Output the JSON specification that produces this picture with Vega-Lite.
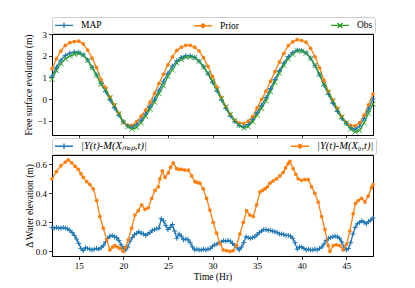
{
"$schema": "https://vega.github.io/schema/vega-lite/v6.json",
"background": "white",
"padding": {"left": 23, "top": 16, "right": 5, "bottom": 5},
"bounds": "flush",
"spacing": 20,
"resolve": {"scale": {"color": "independent", "shape": "independent", "x": "independent", "y": "independent"}, "legend": {"color": "independent", "shape": "independent"}},
"datasets": {
"top": [
{"t":12.0,"MAP":1.06,"Prior":1.40,"Obs":0.90},
{"t":12.5,"MAP":1.47,"Prior":1.86,"Obs":1.31},
{"t":13.0,"MAP":1.79,"Prior":2.22,"Obs":1.63},
{"t":13.5,"MAP":2.01,"Prior":2.47,"Obs":1.85},
{"t":14.0,"MAP":2.12,"Prior":2.60,"Obs":1.98},
{"t":14.5,"MAP":2.17,"Prior":2.65,"Obs":2.06},
{"t":15.0,"MAP":2.16,"Prior":2.67,"Obs":2.11},
{"t":15.5,"MAP":2.04,"Prior":2.54,"Obs":2.03},
{"t":16.0,"MAP":1.80,"Prior":2.26,"Obs":1.78},
{"t":16.5,"MAP":1.46,"Prior":1.89,"Obs":1.45},
{"t":17.0,"MAP":1.11,"Prior":1.45,"Obs":1.10},
{"t":17.5,"MAP":0.71,"Prior":0.90,"Obs":0.69},
{"t":18.0,"MAP":0.35,"Prior":0.53,"Obs":0.42},
{"t":18.5,"MAP":-0.04,"Prior":0.08,"Obs":0.07},
{"t":19.0,"MAP":-0.41,"Prior":-0.27,"Obs":-0.31},
{"t":19.5,"MAP":-0.75,"Prior":-0.66,"Obs":-0.68},
{"t":20.0,"MAP":-1.05,"Prior":-1.07,"Obs":-1.07},
{"t":20.5,"MAP":-1.24,"Prior":-1.21,"Obs":-1.28},
{"t":21.0,"MAP":-1.29,"Prior":-1.21,"Obs":-1.39},
{"t":21.5,"MAP":-1.18,"Prior":-1.04,"Obs":-1.31},
{"t":22.0,"MAP":-0.97,"Prior":-0.79,"Obs":-1.10},
{"t":22.5,"MAP":-0.69,"Prior":-0.51,"Obs":-0.80},
{"t":23.0,"MAP":-0.34,"Prior":-0.14,"Obs":-0.47},
{"t":23.5,"MAP":0.00,"Prior":0.26,"Obs":-0.15},
{"t":24.0,"MAP":0.41,"Prior":0.72,"Obs":0.25},
{"t":24.5,"MAP":0.82,"Prior":1.14,"Obs":0.61},
{"t":25.0,"MAP":1.19,"Prior":1.58,"Obs":1.04},
{"t":25.5,"MAP":1.52,"Prior":1.94,"Obs":1.34},
{"t":26.0,"MAP":1.76,"Prior":2.24,"Obs":1.67},
{"t":26.5,"MAP":1.92,"Prior":2.39,"Obs":1.82},
{"t":27.0,"MAP":2.00,"Prior":2.48,"Obs":1.92},
{"t":27.5,"MAP":2.00,"Prior":2.48,"Obs":1.94},
{"t":28.0,"MAP":1.92,"Prior":2.39,"Obs":1.91},
{"t":28.5,"MAP":1.75,"Prior":2.21,"Obs":1.74},
{"t":29.0,"MAP":1.49,"Prior":1.90,"Obs":1.48},
{"t":29.5,"MAP":1.17,"Prior":1.51,"Obs":1.18},
{"t":30.0,"MAP":0.78,"Prior":1.04,"Obs":0.82},
{"t":30.5,"MAP":0.38,"Prior":0.55,"Obs":0.43},
{"t":31.0,"MAP":-0.04,"Prior":0.06,"Obs":0.03},
{"t":31.5,"MAP":-0.43,"Prior":-0.36,"Obs":-0.36},
{"t":32.0,"MAP":-0.78,"Prior":-0.71,"Obs":-0.71},
{"t":32.5,"MAP":-1.04,"Prior":-0.98,"Obs":-1.00},
{"t":33.0,"MAP":-1.22,"Prior":-1.11,"Obs":-1.21},
{"t":33.5,"MAP":-1.28,"Prior":-1.13,"Obs":-1.34},
{"t":34.0,"MAP":-1.18,"Prior":-1.02,"Obs":-1.28},
{"t":34.5,"MAP":-0.95,"Prior":-0.81,"Obs":-1.05},
{"t":35.0,"MAP":-0.63,"Prior":-0.41,"Obs":-0.74},
{"t":35.5,"MAP":-0.29,"Prior":-0.02,"Obs":-0.43},
{"t":36.0,"MAP":0.07,"Prior":0.36,"Obs":-0.08},
{"t":36.5,"MAP":0.48,"Prior":0.81,"Obs":0.34},
{"t":37.0,"MAP":0.90,"Prior":1.26,"Obs":0.77},
{"t":37.5,"MAP":1.31,"Prior":1.71,"Obs":1.19},
{"t":38.0,"MAP":1.66,"Prior":2.10,"Obs":1.55},
{"t":38.5,"MAP":1.96,"Prior":2.46,"Obs":1.85},
{"t":39.0,"MAP":2.15,"Prior":2.64,"Obs":2.06},
{"t":39.5,"MAP":2.25,"Prior":2.74,"Obs":2.23},
{"t":40.0,"MAP":2.24,"Prior":2.70,"Obs":2.21},
{"t":40.5,"MAP":2.13,"Prior":2.62,"Obs":2.12},
{"t":41.0,"MAP":1.89,"Prior":2.34,"Obs":1.88},
{"t":41.5,"MAP":1.54,"Prior":1.95,"Obs":1.55},
{"t":42.0,"MAP":1.12,"Prior":1.44,"Obs":1.14},
{"t":42.5,"MAP":0.64,"Prior":0.87,"Obs":0.69},
{"t":43.0,"MAP":0.22,"Prior":0.35,"Obs":0.31},
{"t":43.5,"MAP":-0.19,"Prior":-0.05,"Obs":-0.09},
{"t":44.0,"MAP":-0.57,"Prior":-0.43,"Obs":-0.47},
{"t":44.5,"MAP":-0.90,"Prior":-0.81,"Obs":-0.83},
{"t":45.0,"MAP":-1.13,"Prior":-1.08,"Obs":-1.12},
{"t":45.5,"MAP":-1.33,"Prior":-1.22,"Obs":-1.39},
{"t":46.0,"MAP":-1.40,"Prior":-1.24,"Obs":-1.52},
{"t":46.5,"MAP":-1.25,"Prior":-1.09,"Obs":-1.45},
{"t":47.0,"MAP":-0.90,"Prior":-0.76,"Obs":-1.10},
{"t":47.5,"MAP":-0.46,"Prior":-0.27,"Obs":-0.66},
{"t":48.0,"MAP":0.00,"Prior":0.23,"Obs":-0.23}
],
"ea": [
{"t":12.0,"v":0.165},{"t":12.25,"v":0.16},{"t":12.5,"v":0.165},{"t":12.75,"v":0.16},{"t":13.0,"v":0.16},{"t":13.25,"v":0.165},{"t":13.5,"v":0.16},{"t":13.75,"v":0.155},
{"t":14.0,"v":0.145},{"t":14.25,"v":0.13},{"t":14.5,"v":0.11},{"t":14.75,"v":0.085},{"t":15.0,"v":0.055},{"t":15.25,"v":0.02},{"t":15.5,"v":0.005},{"t":15.75,"v":0.025},
{"t":16.0,"v":0.02},{"t":16.25,"v":0.015},{"t":16.5,"v":0.01},{"t":16.75,"v":0.015},{"t":17.0,"v":0.02},{"t":17.25,"v":0.015},{"t":17.5,"v":0.025},{"t":17.75,"v":0.04},
{"t":18.0,"v":0.065},{"t":18.25,"v":0.09},{"t":18.5,"v":0.105},{"t":18.75,"v":0.11},{"t":19.0,"v":0.1},{"t":19.25,"v":0.095},{"t":19.5,"v":0.075},{"t":19.75,"v":0.045},
{"t":20.0,"v":0.02},{"t":20.25,"v":0.01},{"t":20.5,"v":0.03},{"t":20.75,"v":0.07},{"t":21.0,"v":0.095},{"t":21.25,"v":0.115},{"t":21.5,"v":0.125},{"t":21.75,"v":0.135},
{"t":22.0,"v":0.125},{"t":22.25,"v":0.12},{"t":22.5,"v":0.11},{"t":22.75,"v":0.12},{"t":23.0,"v":0.13},{"t":23.25,"v":0.145},{"t":23.5,"v":0.15},{"t":23.75,"v":0.155},
{"t":24.0,"v":0.16},{"t":24.25,"v":0.225},{"t":24.5,"v":0.21},{"t":24.75,"v":0.18},{"t":25.0,"v":0.15},{"t":25.25,"v":0.165},{"t":25.5,"v":0.185},{"t":25.75,"v":0.14},
{"t":26.0,"v":0.09},{"t":26.25,"v":0.12},{"t":26.5,"v":0.105},{"t":26.75,"v":0.08},{"t":27.0,"v":0.085},{"t":27.25,"v":0.08},{"t":27.5,"v":0.06},{"t":27.75,"v":0.03},
{"t":28.0,"v":0.01},{"t":28.25,"v":0.015},{"t":28.5,"v":0.01},{"t":28.75,"v":0.01},{"t":29.0,"v":0.015},{"t":29.25,"v":0.01},{"t":29.5,"v":0.015},{"t":29.75,"v":0.02},
{"t":30.0,"v":0.035},{"t":30.25,"v":0.045},{"t":30.5,"v":0.05},{"t":30.75,"v":0.06},{"t":31.0,"v":0.065},{"t":31.25,"v":0.075},{"t":31.5,"v":0.07},{"t":31.75,"v":0.075},
{"t":32.0,"v":0.07},{"t":32.25,"v":0.055},{"t":32.5,"v":0.04},{"t":32.75,"v":0.025},{"t":33.0,"v":0.01},{"t":33.25,"v":0.03},{"t":33.5,"v":0.06},{"t":33.75,"v":0.1},
{"t":34.0,"v":0.095},{"t":34.25,"v":0.09},{"t":34.5,"v":0.095},{"t":34.75,"v":0.1},{"t":35.0,"v":0.115},{"t":35.25,"v":0.13},{"t":35.5,"v":0.14},{"t":35.75,"v":0.15},
{"t":36.0,"v":0.15},{"t":36.25,"v":0.145},{"t":36.5,"v":0.145},{"t":36.75,"v":0.14},{"t":37.0,"v":0.135},{"t":37.25,"v":0.13},{"t":37.5,"v":0.12},{"t":37.75,"v":0.12},
{"t":38.0,"v":0.115},{"t":38.25,"v":0.11},{"t":38.5,"v":0.11},{"t":38.75,"v":0.105},{"t":39.0,"v":0.09},{"t":39.25,"v":0.06},{"t":39.5,"v":0.015},{"t":39.75,"v":0.03},
{"t":40.0,"v":0.03},{"t":40.25,"v":0.02},{"t":40.5,"v":0.01},{"t":40.75,"v":0.015},{"t":41.0,"v":0.01},{"t":41.25,"v":0.01},{"t":41.5,"v":0.015},{"t":41.75,"v":0.01},
{"t":42.0,"v":0.02},{"t":42.25,"v":0.03},{"t":42.5,"v":0.05},{"t":42.75,"v":0.075},{"t":43.0,"v":0.09},{"t":43.25,"v":0.095},{"t":43.5,"v":0.1},{"t":43.75,"v":0.105},
{"t":44.0,"v":0.1},{"t":44.25,"v":0.09},{"t":44.5,"v":0.065},{"t":44.75,"v":0.03},{"t":45.0,"v":0.01},{"t":45.25,"v":0.02},{"t":45.5,"v":0.06},{"t":45.75,"v":0.12},
{"t":46.0,"v":0.165},{"t":46.25,"v":0.19},{"t":46.5,"v":0.2},{"t":46.75,"v":0.21},{"t":47.0,"v":0.2},{"t":47.25,"v":0.19},{"t":47.5,"v":0.205},{"t":47.75,"v":0.215},
{"t":48.0,"v":0.23}
],
"eb": [
{"t":12.0,"v":0.5},{"t":12.5,"v":0.55},{"t":13.0,"v":0.59},{"t":13.5,"v":0.615},{"t":13.83,"v":0.63},{"t":14.2,"v":0.61},{"t":14.6,"v":0.585},{"t":14.95,"v":0.565},
{"t":15.25,"v":0.535},{"t":15.51,"v":0.51},{"t":15.9,"v":0.48},{"t":16.26,"v":0.46},{"t":16.63,"v":0.43},{"t":17.01,"v":0.35},{"t":17.38,"v":0.24},{"t":17.75,"v":0.16},
{"t":18.13,"v":0.08},{"t":18.5,"v":0.01},{"t":18.8,"v":0.03},{"t":19.06,"v":0.04},{"t":19.35,"v":0.03},{"t":19.62,"v":0.02},{"t":19.99,"v":0.0},{"t":20.25,"v":0.03},
{"t":20.55,"v":0.08},{"t":20.93,"v":0.16},{"t":21.3,"v":0.25},{"t":21.67,"v":0.28},{"t":22.06,"v":0.32},{"t":22.43,"v":0.29},{"t":22.8,"v":0.3},{"t":23.18,"v":0.365},
{"t":23.55,"v":0.42},{"t":23.92,"v":0.445},{"t":24.1,"v":0.5},{"t":24.37,"v":0.555},{"t":24.67,"v":0.51},{"t":25.04,"v":0.54},{"t":25.3,"v":0.58},{"t":25.6,"v":0.61},
{"t":25.98,"v":0.57},{"t":26.25,"v":0.565},{"t":26.54,"v":0.565},{"t":26.9,"v":0.56},{"t":27.28,"v":0.56},{"t":27.66,"v":0.52},{"t":28.03,"v":0.48},{"t":28.3,"v":0.475},
{"t":28.59,"v":0.47},{"t":28.96,"v":0.43},{"t":29.34,"v":0.365},{"t":29.71,"v":0.285},{"t":30.08,"v":0.2},{"t":30.46,"v":0.125},{"t":30.83,"v":0.055},{"t":31.2,"v":0.01},
{"t":31.6,"v":0.005},{"t":31.95,"v":0.0},{"t":32.3,"v":0.005},{"t":32.7,"v":0.04},{"t":33.08,"v":0.12},{"t":33.45,"v":0.2},{"t":33.83,"v":0.28},{"t":34.2,"v":0.25},
{"t":34.57,"v":0.24},{"t":34.95,"v":0.32},{"t":35.32,"v":0.41},{"t":35.6,"v":0.42},{"t":35.88,"v":0.43},{"t":36.15,"v":0.445},{"t":36.44,"v":0.47},{"t":36.8,"v":0.485},
{"t":37.19,"v":0.5},{"t":37.55,"v":0.52},{"t":37.93,"v":0.545},{"t":38.2,"v":0.575},{"t":38.49,"v":0.605},{"t":38.68,"v":0.62},{"t":39.05,"v":0.57},{"t":39.35,"v":0.53},
{"t":39.61,"v":0.5},{"t":39.99,"v":0.49},{"t":40.35,"v":0.495},{"t":40.73,"v":0.495},{"t":41.11,"v":0.445},{"t":41.48,"v":0.4},{"t":41.85,"v":0.34},{"t":42.24,"v":0.24},
{"t":42.61,"v":0.15},{"t":42.98,"v":0.04},{"t":43.17,"v":0.0},{"t":43.54,"v":0.04},{"t":43.9,"v":0.045},{"t":44.29,"v":0.04},{"t":44.66,"v":0.01},{"t":45.04,"v":0.05},
{"t":45.41,"v":0.14},{"t":45.78,"v":0.26},{"t":46.05,"v":0.33},{"t":46.34,"v":0.35},{"t":46.72,"v":0.365},{"t":47.09,"v":0.34},{"t":47.46,"v":0.38},{"t":47.84,"v":0.44},
{"t":48.0,"v":0.46}
]
},
"vconcat": [
{
"width": 321, "height": 101,
"data": {"name": "top"},
"transform": [{"fold": ["MAP", "Prior", "Obs"], "as": ["key", "val"]}],
"encoding": {
"x": {"field": "t", "type": "quantitative", "scale": {"domain": [12, 48], "nice": false, "zero": false}, "axis": {"values": [15, 20, 25, 30, 35, 40, 45], "labels": false, "title": null}},
"y": {"field": "val", "type": "quantitative", "scale": {"domain": [-1.66, 3.0], "nice": false, "zero": false}, "axis": {"values": [-1, 0, 1, 2, 3], "title": "Free surface evolution (m)", "titlePadding": 3}},
"color": {"field": "key", "type": "nominal", "scale": {"domain": ["MAP", "Prior", "Obs"], "range": ["#1f77b4", "#ff7f0e", "#2ca02c"]},
"legend": {"orient": "top", "direction": "horizontal", "title": null, "offset": 1, "padding": 2, "strokeColor": "#cccccc", "fillColor": "white", "cornerRadius": 2, "symbolSize": 100, "labelOffset": 15, "labelFontSize": 9.5, "labelFont": "Liberation Serif", "labelColor": "black", "columnPadding": 89,
"encode": {"symbols": {"update": {
"shape": {"signal": "datum.value == 'MAP' ? 'M-1,0L2.6,0M0.8,-0.55L0.8,0.55' : datum.value == 'Prior' ? 'M-1,0L2.6,0M0.45,0A0.35,0.35,0,1,1,1.15,0A0.35,0.35,0,1,1,0.45,0Z' : 'M-1,0L2.6,0M0.3,-0.5L1.3,0.5M0.3,0.5L1.3,-0.5'"},
"fill": {"signal": "datum.value == 'Prior' ? '#ff7f0e' : 'transparent'"},
"stroke": {"signal": "datum.value == 'MAP' ? '#1f77b4' : datum.value == 'Prior' ? '#ff7f0e' : '#2ca02c'"},
"strokeWidth": {"value": 1.3},
"opacity": {"value": 1}
}}}}}
},
"layer": [
{"mark": {"type": "line", "strokeWidth": 1.3}},
{"transform": [{"filter": "datum.key == 'Prior'"}], "mark": {"type": "point", "shape": "circle", "filled": true, "size": 14, "opacity": 1}},
{"transform": [{"filter": "datum.key != 'Prior'"}], "mark": {"type": "point", "filled": false, "size": 25, "strokeWidth": 1, "opacity": 1},
"encoding": {"shape": {"field": "key", "type": "nominal", "scale": {"domain": ["MAP", "Obs"], "range": ["M-1,0L1,0M0,-1L0,1", "M-1,-1L1,1M-1,1L1,-1"]}, "legend": null}}}
]
},
{
"width": 321, "height": 101,
"encoding": {
"x": {"field": "t", "type": "quantitative", "scale": {"domain": [12, 48], "nice": false, "zero": false}, "axis": {"values": [15, 20, 25, 30, 35, 40, 45], "title": "Time (Hr)", "titlePadding": 1}},
"y": {"field": "v", "type": "quantitative", "scale": {"domain": [-0.032, 0.664], "nice": false, "zero": false}, "axis": {"values": [0, 0.2, 0.4, 0.6], "format": ".1f", "title": "Δ Water elevation (m)", "titlePadding": 1}}
},
"layer": [
{"data": {"name": "ea"}, "mark": {"type": "line", "strokeWidth": 1.3},
"encoding": {"color": {"datum": "a", "type": "nominal", "scale": {"domain": ["a", "b"], "range": ["#1f77b4", "#ff7f0e"]},
"legend": {"orient": "top", "direction": "horizontal", "title": null, "offset": 1, "padding": 2, "strokeColor": "#cccccc", "fillColor": "white", "cornerRadius": 2, "symbolSize": 100, "labelOffset": 15, "labelFontSize": 10.5, "labelFont": "Liberation Serif", "labelFontStyle": "italic", "labelColor": "black", "columnPadding": 141, "labelLimit": 200,
"labelExpr": "datum.label == 'a' ? '|Y(t)-M(Xₘₐₚ,t)|' : '|Y(t)-M(X₀,t)|'",
"encode": {"symbols": {"update": {
"shape": {"signal": "datum.value == 'a' ? 'M-1,0L2.6,0M0.8,-0.55L0.8,0.55' : 'M-1,0L2.6,0M0.45,0A0.35,0.35,0,1,1,1.15,0A0.35,0.35,0,1,1,0.45,0Z'"},
"fill": {"signal": "datum.value == 'b' ? '#ff7f0e' : 'transparent'"},
"stroke": {"signal": "datum.value == 'a' ? '#1f77b4' : '#ff7f0e'"},
"strokeWidth": {"value": 1.3},
"opacity": {"value": 1}
}}}}}}},
{"data": {"name": "ea"}, "mark": {"type": "point", "shape": "M-1,0L1,0M0,-1L0,1", "filled": false, "size": 25, "strokeWidth": 1, "opacity": 1},
"encoding": {"color": {"datum": "a", "type": "nominal"}}},
{"data": {"name": "eb"}, "mark": {"type": "line", "strokeWidth": 1.3},
"encoding": {"color": {"datum": "b", "type": "nominal"}}},
{"data": {"name": "eb"}, "mark": {"type": "point", "shape": "circle", "filled": true, "size": 14, "opacity": 1},
"encoding": {"color": {"datum": "b", "type": "nominal"}}}
]
}
],
"config": {
"font": "Liberation Serif",
"view": {"stroke": "black", "strokeWidth": 1},
"axis": {"grid": false, "domainColor": "black", "domainWidth": 1, "tickColor": "black", "tickSize": 3.5, "tickWidth": 0.8, "labelFont": "Liberation Serif", "labelFontSize": 9, "labelColor": "black", "labelPadding": 2, "titleFont": "Liberation Serif", "titleFontSize": 9.5, "titleFontWeight": "normal", "titleColor": "black"}
}
}
